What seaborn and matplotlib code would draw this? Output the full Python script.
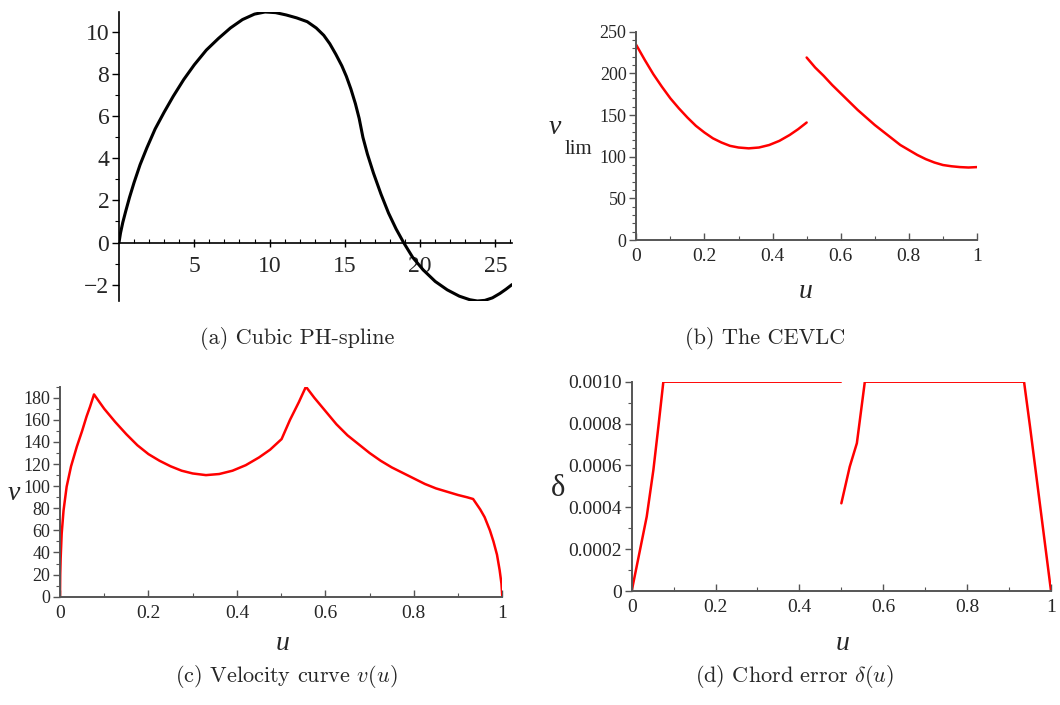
import numpy as np
import pandas as pd
import matplotlib
matplotlib.use("Agg")
import matplotlib.pyplot as plt
import seaborn as sns
from matplotlib.ticker import MultipleLocator, FixedLocator, FixedFormatter

sns.set_theme(style="white")
plt.rcParams['font.family'] = ['Liberation Serif', 'DejaVu Serif']
plt.rcParams['mathtext.fontset'] = 'cm'

# (a) Cubic PH-spline (parametric curve points)
spline_x = [0, 0.1, 0.25, 0.45, 0.7, 1.0, 1.4, 1.85, 2.4, 3.0, 3.6, 4.3, 5.0, 5.8, 6.6,
            7.4, 8.2, 9.0, 9.7, 10.4, 11.1, 11.8, 12.5, 13.1, 13.6, 14.0, 14.4, 14.8,
            15.1, 15.4, 15.7, 15.95, 16.2, 16.5, 16.9, 17.4, 17.9, 18.4, 18.9, 19.5,
            20.2, 21.0, 21.8, 22.6, 23.3, 23.8, 24.3, 24.8, 25.3, 25.7, 26.1]
spline_y = [0, 0.45, 0.95, 1.5, 2.15, 2.85, 3.7, 4.5, 5.4, 6.2, 6.95, 7.75, 8.45, 9.15, 9.7,
            10.2, 10.6, 10.86, 10.96, 10.93, 10.82, 10.68, 10.5, 10.2, 9.85, 9.45, 8.95, 8.4,
            7.9, 7.3, 6.6, 5.9, 5.0, 4.2, 3.3, 2.3, 1.4, 0.65, 0.0, -0.7,
            -1.3, -1.85, -2.25, -2.55, -2.72, -2.78, -2.75, -2.63, -2.42, -2.22, -2.0]

# (b) The CEVLC (two segments)
vlim_u1 = [0, 0.025, 0.05, 0.075, 0.1, 0.125, 0.15, 0.175, 0.2, 0.225, 0.25, 0.275, 0.3,
           0.33, 0.36, 0.39, 0.42, 0.45, 0.475, 0.5]
vlim_v1 = [234, 216, 199, 184, 170, 158, 147, 137, 129, 122, 117, 113, 111,
           110, 111, 114, 119, 126, 133, 141]
vlim_u2 = [0.5, 0.525, 0.55, 0.575, 0.6, 0.625, 0.65, 0.675, 0.7, 0.725, 0.75, 0.775, 0.8,
           0.825, 0.85, 0.875, 0.9, 0.925, 0.95, 0.975, 1.0]
vlim_v2 = [219, 207, 197, 186, 176, 166, 156, 147, 138, 130, 122, 114, 108,
           102, 97, 93, 90, 88.5, 87.5, 87, 87.5]

# (c) Velocity curve
vel_u = [0, 0.0005, 0.0015, 0.0038, 0.008, 0.015, 0.025, 0.038, 0.05, 0.06, 0.068, 0.0769,
         0.1, 0.125, 0.15, 0.175, 0.2, 0.225, 0.25, 0.275, 0.3, 0.33, 0.36, 0.39, 0.42,
         0.45, 0.475, 0.501,
         0.52, 0.54, 0.556,
         0.575, 0.6, 0.625, 0.65, 0.675, 0.7, 0.725, 0.75, 0.775, 0.8, 0.825, 0.85,
         0.875, 0.9, 0.92, 0.934,
         0.95, 0.96, 0.972, 0.98, 0.988, 0.994, 0.998, 1.0]
vel_v = [0, 20, 35, 57, 78, 99.5, 118, 135.7, 150, 163, 172, 183,
         170, 158, 147, 137, 129, 123, 118, 114, 111.5, 110, 111, 114, 119,
         126, 133, 142.6,
         160, 176, 190,
         180, 168, 156, 146, 138, 130, 123, 117, 112, 107, 102, 98,
         95, 92, 90, 88.4,
         79, 72, 60, 50, 38, 24, 12, 0]

# (d) Chord error (two segments)
err_u1 = [0, 0.0198, 0.0358, 0.0517, 0.0636, 0.0755, 0.499]
err_d1 = [0, 0.000196, 0.000355, 0.000578, 0.000785, 0.001, 0.001]
err_u2 = [0.5, 0.52, 0.537, 0.556, 0.9357, 0.95, 1.0]
err_d2 = [0.000419, 0.000594, 0.000706, 0.001, 0.001, 0.000785, 0]

W, H = 1060, 705
fig = plt.figure(figsize=(W / 100, H / 100), dpi=100)
fig.patch.set_facecolor('white')


def px_axes(left, top, right, bottom):
    return fig.add_axes([left / W, (H - bottom) / H, (right - left) / W, (bottom - top) / H])


RED = '#ff0000'
GRAY = '#555555'


def style(ax, color=GRAY, yfs=13, xfs=14):
    for s in ['top', 'right']:
        ax.spines[s].set_visible(False)
    for s in ['left', 'bottom']:
        ax.spines[s].set_color(color)
        ax.spines[s].set_linewidth(1.4)
    ax.set_facecolor('none')
    ax.tick_params(axis='y', which='major', direction='out', length=5, width=1, color=color,
                   labelsize=yfs, pad=2, left=True)
    ax.tick_params(axis='y', which='minor', direction='out', length=3, width=0.8, color=color, left=True)
    ax.tick_params(axis='x', which='major', direction='in', length=5, width=1, color=color,
                   labelsize=xfs, pad=6, bottom=True)
    ax.tick_params(axis='x', which='minor', direction='in', length=3, width=0.8, color=color, bottom=True)
    ax.grid(False)
    ax.set_xlabel('')
    ax.set_ylabel('')


U_TICKS = [0, 0.2, 0.4, 0.6, 0.8, 1.0]
U_LABELS = ['0', '0.2', '0.4', '0.6', '0.8', '1']

# ---- (a)
axa = px_axes(119, 12, 512, 301)
dfa = pd.DataFrame({'x': spline_x, 'y': spline_y})
sns.lineplot(data=dfa, x='x', y='y', sort=False, estimator=None, color='black', lw=2.2, ax=axa)
axa.set_xlim(0, 26.1)
axa.set_ylim(-2.78, 10.96)
style(axa, color='black', yfs=17, xfs=17)
axa.spines['left'].set_position(('data', 0))
axa.spines['bottom'].set_position(('data', 0))
axa.spines['left'].set_linewidth(1.2)
axa.spines['bottom'].set_linewidth(1.2)
axa.xaxis.set_major_locator(FixedLocator([5, 10, 15, 20, 25]))
axa.xaxis.set_minor_locator(MultipleLocator(1))
axa.yaxis.set_major_locator(FixedLocator([-2, 0, 2, 4, 6, 8, 10]))
axa.yaxis.set_major_formatter(FixedFormatter(['\u22122', '0', '2', '4', '6', '8', '10']))
axa.yaxis.set_minor_locator(MultipleLocator(1))
axa.tick_params(axis='x', which='major', direction='inout', length=6, pad=7)

# ---- (b)
axb = px_axes(636.3, 31.7, 977, 240)
dfb = pd.DataFrame({'u': vlim_u1 + vlim_u2, 'v': vlim_v1 + vlim_v2,
                    'seg': [1] * len(vlim_u1) + [2] * len(vlim_u2)})
sns.lineplot(data=dfb, x='u', y='v', units='seg', estimator=None, sort=False, color=RED, lw=1.8, ax=axb)
axb.set_xlim(0, 1)
axb.set_ylim(0, 250)
style(axb)
axb.xaxis.set_major_locator(FixedLocator(U_TICKS))
axb.xaxis.set_major_formatter(FixedFormatter(U_LABELS))
axb.xaxis.set_minor_locator(MultipleLocator(0.1))
axb.yaxis.set_major_locator(MultipleLocator(50))
axb.yaxis.set_minor_locator(MultipleLocator(10))
fig.text(806 / W, 1 - 292 / H, 'u', style='italic', fontsize=20, ha='center', va='center')
fig.text(555 / W, 1 - 128 / H, 'v', style='italic', fontsize=20, ha='center', va='center')
fig.text(578 / W, 1 - 150 / H, 'lim', fontsize=15, ha='center', va='center')

# ---- (c)
axc = px_axes(60, 386.7, 502.3, 596.7)
dfc = pd.DataFrame({'u': vel_u, 'v': vel_v})
sns.lineplot(data=dfc, x='u', y='v', sort=False, estimator=None, color=RED, lw=1.8, ax=axc)
axc.set_xlim(0, 1)
axc.set_ylim(0, 190)
style(axc, yfs=13, xfs=14)
axc.xaxis.set_major_locator(FixedLocator(U_TICKS))
axc.xaxis.set_major_formatter(FixedFormatter(U_LABELS))
axc.xaxis.set_minor_locator(MultipleLocator(0.1))
axc.yaxis.set_major_locator(MultipleLocator(20))
axc.yaxis.set_minor_locator(MultipleLocator(10))
fig.text(283 / W, 1 - 643 / H, 'u', style='italic', fontsize=20, ha='center', va='center')
fig.text(14 / W, 1 - 494 / H, 'v', style='italic', fontsize=20, ha='center', va='center')

# ---- (d)
axd = px_axes(631.7, 381.7, 1051, 591)
dfd = pd.DataFrame({'u': err_u1 + err_u2, 'd': err_d1 + err_d2,
                    'seg': [1] * len(err_u1) + [2] * len(err_u2)})
sns.lineplot(data=dfd, x='u', y='d', units='seg', estimator=None, sort=False, color=RED, lw=1.8, ax=axd)
axd.set_xlim(0, 1)
axd.set_ylim(0, 0.001)
style(axd, yfs=14, xfs=14)
axd.xaxis.set_major_locator(FixedLocator(U_TICKS))
axd.xaxis.set_major_formatter(FixedFormatter(U_LABELS))
axd.xaxis.set_minor_locator(MultipleLocator(0.1))
axd.yaxis.set_major_locator(FixedLocator([0, 0.0002, 0.0004, 0.0006, 0.0008, 0.0010]))
axd.yaxis.set_major_formatter(FixedFormatter(['0', '0.0002', '0.0004', '0.0006', '0.0008', '0.0010']))
axd.yaxis.set_minor_locator(MultipleLocator(0.0001))
fig.text(843 / W, 1 - 643 / H, 'u', style='italic', fontsize=20, ha='center', va='center')
fig.text(558 / W, 1 - 488 / H, '\u03b4', fontsize=22, ha='center', va='center')

# ---- captions
cap_kw = dict(fontsize=16, ha='center', va='center', family='cmr10')
fig.text(297 / W, 1 - 338 / H, '(a) Cubic PH-spline', **cap_kw)
fig.text(765 / W, 1 - 338 / H, '(b) The CEVLC', **cap_kw)
fig.text(286 / W, 1 - 677 / H, r'(c) Velocity curve $v(u)$', **cap_kw)
fig.text(795 / W, 1 - 677 / H, r'(d) Chord error $\delta(u)$', **cap_kw)

fig.savefig('out.png', dpi=100, facecolor='white')
